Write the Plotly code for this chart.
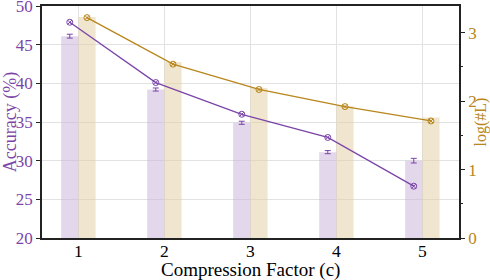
import plotly.graph_objects as go

factors = [1, 2, 3, 4, 5]
acc_bar = [46.1, 39.2, 34.9, 31.1, 30.0]
acc_err = [0.25, 0.2, 0.2, 0.2, 0.3]
acc_line = [47.9, 40.1, 36.0, 33.0, 26.7]
logl_bar = [3.23, 2.57, 2.19, 1.93, 1.76]
logl_line = [3.22, 2.54, 2.17, 1.92, 1.71]

PURPLE = "#7B45A8"
GOLD = "#B8861B"
xp = [f - 0.1 for f in factors]
xg = [f + 0.1 for f in factors]

fig = go.Figure()
fig.add_trace(go.Bar(x=xp, y=acc_bar, width=0.2, marker=dict(color="rgba(200,175,215,0.5)", line=dict(width=0)),
                     error_y=dict(type="data", array=acc_err, color=PURPLE, thickness=1, width=3),
                     yaxis="y", showlegend=False))
fig.add_trace(go.Bar(x=xg, y=logl_bar, width=0.2, marker=dict(color="rgba(225,205,160,0.5)", line=dict(width=0)),
                     yaxis="y2", showlegend=False))
fig.add_trace(go.Scatter(x=xg, y=logl_line, mode="lines+markers", line=dict(color=GOLD, width=1.3),
                         marker=dict(symbol="circle-x-open", size=6, color=GOLD, line=dict(width=1)),
                         yaxis="y2", showlegend=False))
fig.add_trace(go.Scatter(x=xp, y=acc_line, mode="lines+markers", line=dict(color=PURPLE, width=1.3),
                         marker=dict(symbol="circle-x-open", size=6, color=PURPLE, line=dict(width=1)),
                         yaxis="y3", showlegend=False))

font = "Liberation Serif"
fig.update_layout(
    width=490, height=280,
    margin=dict(l=42, r=31, t=6, b=42),
    plot_bgcolor="white", paper_bgcolor="white",
    barmode="overlay",
    font=dict(family=font, size=16, color="black"),
    xaxis=dict(range=[0.577, 5.426], tickvals=factors, ticktext=[str(f) for f in factors],
               showgrid=True, gridcolor="#E2E2E2", gridwidth=1,
               showline=True, linecolor="#222", linewidth=1.5, mirror=True,
               ticks="", ticklabelstandoff=-4,
               tickfont=dict(family=font, size=17.5, color="black"),
               zeroline=False, automargin=False, ticklabeloverflow="allow"),
    yaxis=dict(range=[20, 50], tickvals=[20, 25, 30, 35, 40, 45, 50],
               showgrid=True, gridcolor="#E2E2E2", gridwidth=1,
               showline=True, linecolor="#222", linewidth=1.5,
               ticks="outside", ticklen=4, tickcolor="#222",
               tickfont=dict(family=font, size=17, color=PURPLE),
               title=dict(text="Accuracy (%)", font=dict(family=font, size=18, color=PURPLE), standoff=2),
               zeroline=False, automargin=False, ticklabeloverflow="allow"),
    yaxis2=dict(range=[0, 3.39], overlaying="y", side="right", tickvals=[0, 1, 2, 3],
                showgrid=False, showline=True, linecolor="#222", linewidth=1.5,
                ticks="outside", ticklen=4, tickcolor="#222",
                minor=dict(ticks="outside", ticklen=2, tickcolor="#222", dtick=0.5, showgrid=False),
                tickfont=dict(family=font, size=17, color=GOLD),
                title=dict(text="log(#L)", font=dict(family=font, size=16, color=GOLD), standoff=4),
                zeroline=False, automargin=False, ticklabeloverflow="allow"),
    yaxis3=dict(range=[20, 50], overlaying="y", visible=False),
    annotations=[dict(text="Compression Factor (c)", xref="paper", yref="paper",
                      x=0.5, y=-43.5 / 232, xanchor="center", yanchor="bottom", showarrow=False,
                      borderpad=0, font=dict(family=font, size=19, color="black"))],
)

fig.write_html("out.html", post_script="document.body.style.margin='0';",
               config={"displayModeBar": False})
